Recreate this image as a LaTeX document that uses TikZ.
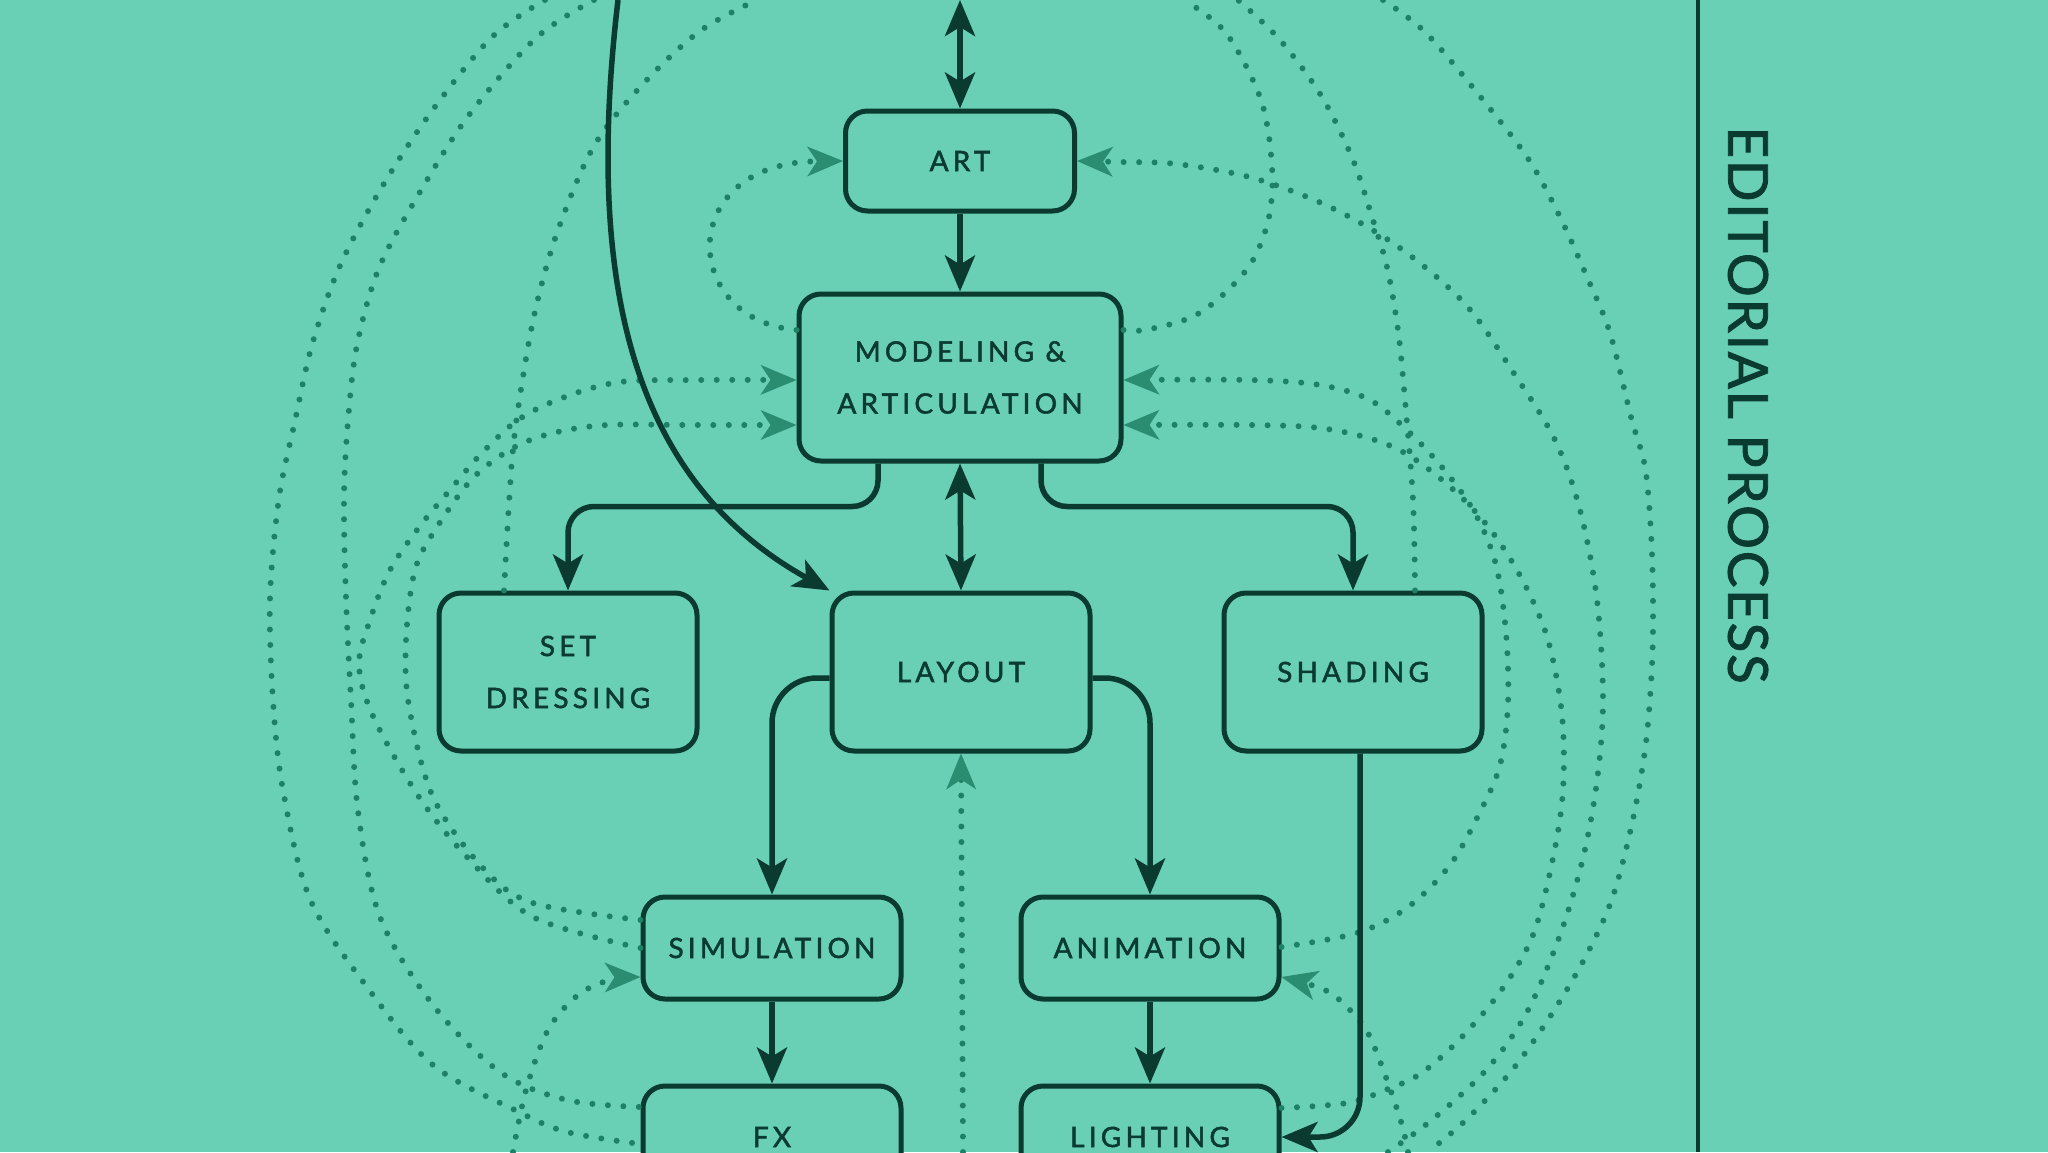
\documentclass[tikz,border=0pt]{standalone}
\usepackage{fontspec}
\newfontfamily\boxfont[LetterSpace=15,FakeBold=1.8]{Lato}
\newfontfamily\edfont[LetterSpace=3,FakeBold=1.5]{Lato}
\usetikzlibrary{arrows.meta}
\definecolor{bgc}{RGB}{105,208,182}
\definecolor{ink}{RGB}{10,58,48}
\definecolor{dotc}{RGB}{30,128,100}
\definecolor{tipc}{RGB}{42,140,112}
\begin{document}
\begin{tikzpicture}[x=1pt,y=-1pt,
  box/.style={draw=ink, fill=bgc, line width=5pt, rounded corners=22pt,
    minimum width=258pt, minimum height=158pt, align=center, text=ink,
    inner sep=0pt, font=\boxfont\fontsize{28}{52}\selectfont},
  sol/.style={draw=ink, line width=5.5pt, -{Stealth[length=36pt,width=30pt,inset=9pt]}},
  solb/.style={draw=ink, line width=5.5pt, {Stealth[length=36pt,width=30pt,inset=9pt]}-{Stealth[length=36pt,width=30pt,inset=9pt]}},
  fb/.style={draw=dotc, line width=6pt, line cap=round, dash pattern=on 0pt off 15.5pt},
  fbtip/.style={-{Stealth[length=36pt,width=30pt,inset=10pt,color=tipc,line width=0pt]}},
]
\fill[bgc] (0,0) rectangle (2048,1152);
\useasboundingbox (0,0) rectangle (2048,1152);

% nodes
\node[box, minimum width=229pt, minimum height=100pt] (art) at (960,161) {ART};
\node[box, minimum width=322pt, minimum height=167pt] (mod) at (960,377.5) {MODELING \&\\ARTICULATION};
\node[box] (set) at (568,672) {SET\\DRESSING};
\node[box] (lay) at (961,672) {LAYOUT};
\node[box] (shad) at (1353,672) {SHADING};
\node[box, minimum height=102pt] (sim) at (772,948) {SIMULATION};
\node[box, minimum height=102pt] (anim) at (1150,948) {ANIMATION};
\node[box, minimum height=102pt] (fx) at (772,1137) {FX};
\node[box, minimum height=102pt] (light) at (1150,1137) {LIGHTING};

\node[rotate=-90, text=ink, inner sep=0pt, font=\edfont\fontsize{55}{60}\selectfont] (ed) at (1748,405) {EDITORIAL PROCESS};

% edge coordinates
\coordinate (topc) at (960,0);
\coordinate (topl) at (618,0);
\coordinate (lt) at (1698,0);
\coordinate (lb) at (1698,1152);
\coordinate (t1) at (545,0);
\coordinate (t2) at (594,0);
\coordinate (t3) at (757,0);
\coordinate (t4) at (1184,0);
\coordinate (t5) at (1238,0);
\coordinate (t6) at (1383,0);
\coordinate (b1) at (513,1152);
\coordinate (b2) at (963,1152);
\coordinate (b3) at (1388,1152);
\coordinate (b4) at (1408,1152);
\coordinate (b5) at (1428,1152);

\draw[ink, line width=4pt] (lt) -- (lb);

\begin{scope}
\clip (0,0) rectangle (2048,1152);
% dotted feedback lines
\draw[fb, fbtip] (mod.west |- 0,330) .. controls (680,320) and (675,163) .. (art.west);
\draw[fb, fbtip] plot[smooth, tension=0.55] coordinates {(sim.west) (533,917) (467,857) (417,794) (373,716) (359,665) (370,620) (390,570) (420,526) (450,490) (480,455) (518,420) (562,398) (620,382) (700,380) (mod.west |- 0,380)};
\draw[fb, fbtip] plot[smooth, tension=0.55] coordinates {(sim.west |- 0,920) (533,903) (483,868) (433,797) (409,706) (406,640) (415,570) (437,527) (473,478) (513,448) (553,433) (607,425) (690,425) (mod.west |- 0,425)};
\draw[fb] plot[smooth, tension=0.55] coordinates {(t2) (536,38) (469,115) (420,192) (379,268) (357,345) (348,421) (344,498) (346,598) (351,700) (358,811) (380,917) (433,1005) (500,1072) (567,1100) (fx.west |- 0,1107)};
\draw[fb] plot[smooth, tension=0.55] coordinates {(t1) (491,38) (429,115) (379,192) (339,268) (312,345) (295,421) (279,498) (270,598) (273,700) (283,790) (310,899) (367,987) (433,1065) (517,1111) (567,1132) (fx.west |- 0,1144)};
\draw[fb] plot[smooth, tension=0.55] coordinates {(set.north -| 504,0) (512,460) (522,383) (536,307) (558,230) (594,146) (643,84) (700,31) (t3)};
\draw[fb, fbtip] plot[smooth, tension=0.55] coordinates {(b1) (526,1090) (548,1030) (578,995) (610,980) (sim.west |- 0,977)};
\draw[fb, fbtip] (b2) -- (lay.south);

\draw[fb, fbtip] plot[smooth, tension=0.55] coordinates {(b3) (1433,1119) (1487,1069) (1527,1012) (1560,935) (1583,858) (1597,781) (1603,700) (1597,600) (1580,510) (1555,440) (1515,375) (1466,305) (1400,248) (1330,207) (1253,178) (1177,164) (1120,162) (art.east)};
\draw[fb] plot[smooth, tension=0.55] coordinates {(mod.east |- 0,330) (1145,330) (1192,317) (1226,292) (1253,260) (1269,217) (1272,167) (1261,100) (1226,33) (t4)};
\draw[fb, fbtip] plot[smooth, tension=0.55] coordinates {(anim.east |- 0,947) (1357,933) (1408,907) (1450,865) (1480,812) (1500,765) (1508,704) (1506,633) (1496,565) (1476,515) (1446,472) (1410,433) (1370,400) (1320,385) (1250,380) (mod.east |- 0,380)};
\draw[fb, fbtip] plot[smooth, tension=0.55] coordinates {(light.east |- 0,1108) (1347,1103) (1388,1089) (1420,1074) (1457,1042) (1500,992) (1533,935) (1553,858) (1563,790) (1562,715) (1548,640) (1524,583) (1493,533) (1457,493) (1413,458) (1375,440) (1320,428) (1250,425) (mod.east |- 0,425)};
\draw[fb] plot[smooth, tension=0.55] coordinates {(shad.north -| 1415,0) (1413,500) (1405,400) (1398,330) (1387,267) (1372,217) (1353,160) (1322,97) (1280,40) (t5)};
\draw[fb] plot[smooth, tension=0.55] coordinates {(t6) (1426,33) (1483,100) (1529,160) (1560,217) (1587,277) (1610,333) (1631,417) (1645,467) (1651,533) (1653,600) (1652,665) (1646,742) (1633,819) (1613,896) (1587,954) (1553,1012) (1513,1069) (1467,1119) (b5)};
\draw[fb, fbtip] plot[smooth, tension=0.55] coordinates {(b4) (1402,1125) (1388,1083) (1369,1035) (1350,1010) (1325,990) (anim.east |- 0,977)};

% solid flow
\draw[sol] (topl) .. controls (585,280) and (630,480) .. (lay.north west);
\end{scope}

\draw[solb] (topc) -- (art.north);
\draw[sol] (art.south) -- (mod.north);
\draw[solb] (mod.south) -- (lay.north);
\draw[sol, rounded corners=26pt] ([xshift=-82pt]mod.south) -- ++(0,43) -| (set.north);
\draw[sol, rounded corners=26pt] ([xshift=81pt]mod.south) -- ++(0,43) -| (shad.north);
\draw[sol, rounded corners=45pt] ([yshift=-6pt]lay.west) -| (sim.north);
\draw[sol, rounded corners=45pt] ([yshift=-6pt]lay.east) -| (anim.north);
\draw[sol] (sim.south) -- (fx.north);
\draw[sol] (anim.south) -- (light.north);
\draw[sol, rounded corners=40pt] ([xshift=7pt]shad.south) |- (light.east);
\end{tikzpicture}
\end{document}
